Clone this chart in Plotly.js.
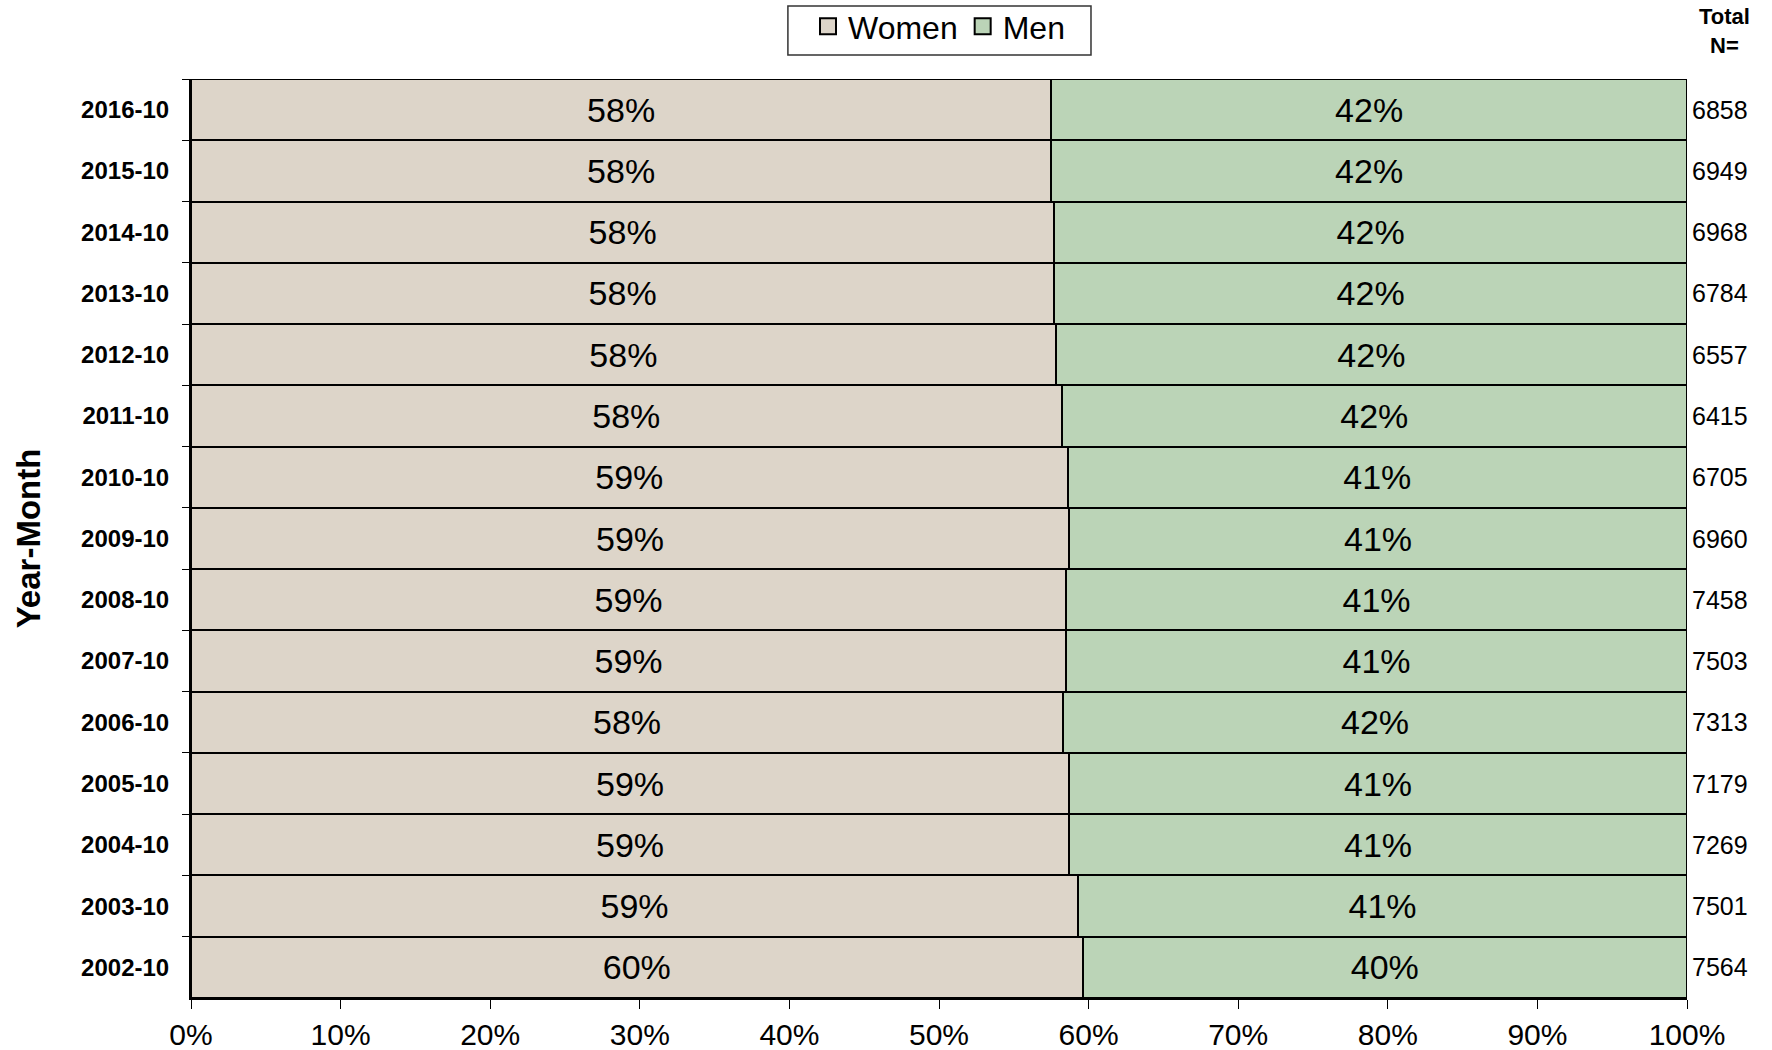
<!DOCTYPE html>
<html>
<head>
<meta charset="utf-8">
<script src="https://cdn.plot.ly/plotly-3.0.1.min.js"></script>
<style>
html,body{margin:0;padding:0;background:#fff;}
#chart{width:1772px;height:1050px;}
</style>
</head>
<body>
<div id="chart"></div>
<script>
const categories = ["2016-10","2015-10","2014-10","2013-10","2012-10","2011-10","2010-10","2009-10","2008-10","2007-10","2006-10","2005-10","2004-10","2003-10","2002-10"];
const women = [57.5,57.5,57.7,57.7,57.8,58.2,58.6,58.7,58.5,58.5,58.3,58.7,58.7,59.3,59.6];
const men = women.map(v => 100 - v);
const womenLabels = ["58%","58%","58%","58%","58%","58%","59%","59%","59%","59%","58%","59%","59%","59%","60%"];
const menLabels = ["42%","42%","42%","42%","42%","42%","41%","41%","41%","41%","42%","41%","41%","41%","40%"];
const totalN = [6858,6949,6968,6784,6557,6415,6705,6960,7458,7503,7313,7179,7269,7501,7564];

const FONT = "Arial, 'Liberation Sans', sans-serif";
const WOMEN_COLOR = "#ddd5c9";
const MEN_COLOR = "#bbd4b7";

const traces = [
  {
    type: "bar", orientation: "h", name: "Women", showlegend: false,
    y: categories, x: women,
    text: womenLabels, textposition: "inside", insidetextanchor: "middle", textangle: 0,
    insidetextfont: {family: FONT, size: 34, color: "#000"},
    marker: {color: WOMEN_COLOR, line: {color: "#000", width: 2}},
    hoverinfo: "skip"
  },
  {
    type: "bar", orientation: "h", name: "Men", showlegend: false,
    y: categories, x: men,
    text: menLabels, textposition: "inside", insidetextanchor: "middle", textangle: 0,
    insidetextfont: {family: FONT, size: 34, color: "#000"},
    marker: {color: MEN_COLOR, line: {color: "#000", width: 2}},
    hoverinfo: "skip"
  },
  {
    type: "scatter", mode: "markers", name: "Women", x: [null], y: [null],
    marker: {symbol: "square", size: 16, color: WOMEN_COLOR, line: {color: "#000", width: 2}},
    hoverinfo: "skip"
  },
  {
    type: "scatter", mode: "markers", name: "Men", x: [null], y: [null],
    marker: {symbol: "square", size: 16, color: MEN_COLOR, line: {color: "#000", width: 2}},
    hoverinfo: "skip"
  }
];

const annotations = categories.map((c, i) => ({
  xref: "paper", yref: "y", x: 1, y: c, xanchor: "left", yanchor: "middle",
  xshift: 3, text: String(totalN[i]), showarrow: false,
  font: {family: FONT, size: 25, color: "#000"}
}));
annotations.push({
  xref: "paper", yref: "paper", x: 1.0254, y: 1.052, xanchor: "center", yanchor: "middle",
  text: "<b>Total<br>N=</b>", showarrow: false,
  font: {family: FONT, size: 22, color: "#000"}
});

const layout = {
  width: 1772, height: 1050,
  margin: {l: 191, r: 85, t: 79, b: 52, pad: 0, autoexpand: false},
  paper_bgcolor: "#fff", plot_bgcolor: "#fff",
  barmode: "stack", bargap: 0,
  font: {family: FONT, color: "#000"},
  showlegend: true,
  legend: {
    orientation: "h", x: 0.5, xanchor: "center", xref: "paper",
    y: 1.087, yanchor: "top",
    borderwidth: 0, bgcolor: "rgba(0,0,0,0)",
    font: {family: FONT, size: 32, color: "#000"},
    traceorder: "normal", itemwidth: 30, tracegroupgap: 0
  },
  shapes: [{
    type: "rect", xref: "paper", yref: "paper",
    x0: 0.399, x1: 0.6016, y0: 1.0261, y1: 1.0794,
    line: {color: "#333", width: 1.5}, fillcolor: "#fff", layer: "below"
  }],
  xaxis: {
    range: [0, 100], dtick: 10, tick0: 0, ticksuffix: "%",
    showgrid: false, zeroline: false,
    showline: true, linecolor: "#000", linewidth: 2,
    ticks: "outside", ticklen: 9, tickcolor: "#000", tickwidth: 1,
    tickfont: {family: FONT, size: 30, color: "#000"}
  },
  yaxis: {
    type: "category", autorange: "reversed",
    showgrid: false, zeroline: false,
    showline: true, linecolor: "#000", linewidth: 2,
    ticks: "outside", ticklen: 7, tickcolor: "#000", tickwidth: 1,
    tickson: "boundaries",
    tickfont: {family: FONT, size: 24, color: "#000", weight: "bold"},
    ticklabelstandoff: 15,
    title: {text: "<b>Year-Month</b>", font: {family: FONT, size: 33, color: "#000"}, standoff: 31}
  },
  annotations: annotations
};

Plotly.newPlot("chart", traces, layout, {displayModeBar: false, staticPlot: true});
</script>
</body>
</html>
